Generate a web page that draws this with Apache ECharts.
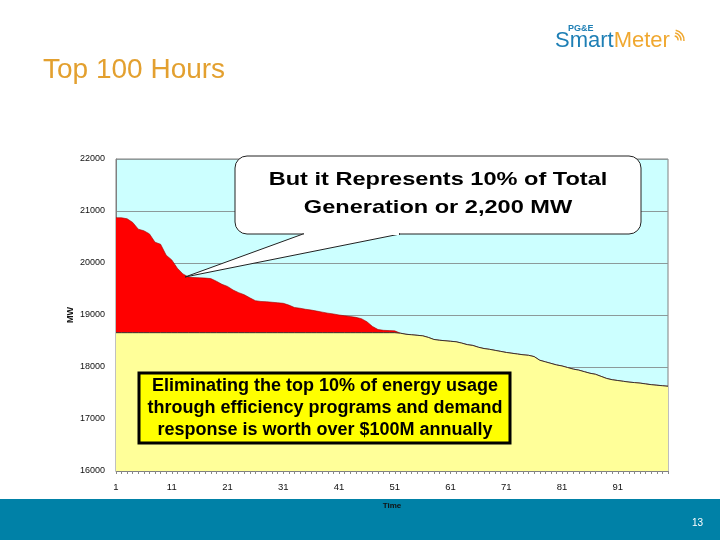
<!DOCTYPE html>
<html>
<head>
<meta charset="utf-8">
<script src="https://cdn.jsdelivr.net/npm/echarts@6/dist/echarts.min.js"></script>
<style>
html,body{margin:0;padding:0;background:#fff;}
#c{width:720px;height:540px;}
</style>
</head>
<body>
<div id="c"></div>
<script>
// Hours 1..100
var hours = [];
for (var i = 1; i <= 100; i++) hours.push(String(i));

// Load (MW) for the top 100 hours
var load = [
20870,20870,20850,20780,20650,20620,20560,20400,20360,20150,
20060,19900,19790,19730,19720,19715,19710,19700,19650,19590,
19550,19480,19430,19390,19330,19275,19260,19255,19245,19235,
19225,19190,19145,19130,19110,19095,19075,19055,19035,19020,
19000,18985,18970,18955,18930,18870,18780,18720,18705,18700,
18695,18650,18630,18620,18610,18600,18570,18530,18515,18505,
18495,18485,18460,18430,18415,18380,18355,18340,18320,18300,
18280,18265,18250,18235,18225,18200,18130,18100,18070,18040,
18020,17990,17960,17940,17910,17880,17860,17820,17780,17755,
17740,17725,17710,17700,17690,17675,17660,17650,17640,17630
];

// Level above which the top 10% lies
var threshold = 18660;

var base = load.map(function (v) { return Math.min(v, threshold); });

var yMin = 16000, yMax = 22000, yStep = 1000;

var chart = echarts.init(document.getElementById('c'));
var sans = 'Liberation Sans, Arial, sans-serif';

chart.setOption({
  animation: false,
  backgroundColor: '#ffffff',
  grid: {
    left: 116, right: 52, top: 159, bottom: 69,
    show: true, backgroundColor: '#CCFFFF', borderColor: '#808080', borderWidth: 1
  },
  xAxis: {
    type: 'category',
    data: hours,
    boundaryGap: false,
    name: 'Time',
    nameLocation: 'middle',
    nameGap: 31,
    nameMoveOverlap: false,
    nameTextStyle: { fontFamily: sans, fontSize: 8, fontWeight: 'bold', color: '#111' },
    axisLine: { lineStyle: { color: '#808080', width: 1 } },
    axisTick: { show: true, interval: 0, length: 3, lineStyle: { color: '#888' } },
    axisLabel: {
      interval: function (idx) { return idx % 10 === 0; },
      fontFamily: sans, fontSize: 9.5, color: '#111', margin: 11
    },
    splitLine: { show: false }
  },
  yAxis: {
    type: 'value',
    min: yMin, max: yMax, interval: yStep,
    name: 'MW',
    nameLocation: 'middle',
    nameGap: 41,
    nameMoveOverlap: false,
    nameTextStyle: { fontFamily: sans, fontSize: 9, fontWeight: 'bold', color: '#111' },
    axisLine: { show: true, lineStyle: { color: '#808080' } },
    axisTick: { show: false },
    axisLabel: { fontFamily: sans, fontSize: 9, color: '#111', margin: 11, formatter: function (v) { return String(v); } },
    splitLine: { lineStyle: { color: '#8c9a9a', width: 1 } }
  },
  series: [
    {
      type: 'line', data: load, symbol: 'none',
      lineStyle: { color: '#a00000', width: 0.6 },
      areaStyle: { color: '#FF0000', opacity: 1 },
      z: 2
    },
    {
      type: 'line', data: base, symbol: 'none',
      lineStyle: { color: '#333333', width: 1 },
      areaStyle: { color: '#FFFF99', opacity: 1 },
      z: 3
    }
  ],
  graphic: [
    { type: 'rect', z: -10, shape: { x: 0, y: 499, width: 720, height: 41 }, style: { fill: '#0081A7' } },
    { type: 'text', z: 10, style: { x: 703, y: 523, text: '13', fill: '#ffffff', font: '10px ' + sans, textAlign: 'right', textVerticalAlign: 'middle' } },
    { type: 'text', z: 10, style: { x: 43, y: 70, text: 'Top 100 Hours', fill: '#E3A02F', font: '28px ' + sans, textAlign: 'left', textVerticalAlign: 'middle' } },
    // logo
    { type: 'text', z: 10, style: { x: 568, y: 29, text: 'PG&E', fill: '#1E7FB5', font: 'bold 9px ' + sans, textAlign: 'left', textVerticalAlign: 'middle' } },
    { type: 'text', z: 10, style: { x: 555, y: 41, text: '{a|Smart}{b|Meter}', rich: { a: { fill: '#1E7FB5', font: '22px ' + sans }, b: { fill: '#F0A830', font: '22px ' + sans } }, textAlign: 'left', textVerticalAlign: 'middle' } },
    { type: 'arc', z: 10, shape: { cx: 674, cy: 40, r: 4, startAngle: -1.4, endAngle: 0.1 }, style: { stroke: '#F0A830', lineWidth: 1.5, fill: null } },
    { type: 'arc', z: 10, shape: { cx: 674, cy: 40, r: 7, startAngle: -1.4, endAngle: 0.1 }, style: { stroke: '#F0A830', lineWidth: 1.5, fill: null } },
    { type: 'arc', z: 10, shape: { cx: 674, cy: 40, r: 10, startAngle: -1.4, endAngle: 0.1 }, style: { stroke: '#F0A830', lineWidth: 1.5, fill: null } },
    // callout
    { type: 'rect', z: 20, shape: { x: 235, y: 156, width: 406, height: 78, r: 12 }, style: { fill: '#ffffff', stroke: '#222222', lineWidth: 1 } },
    { type: 'polygon', z: 21, shape: { points: [[303, 234], [185, 277], [400, 234]] }, style: { fill: '#ffffff', stroke: '#222222', lineWidth: 1 } },
    { type: 'line', z: 22, shape: { x1: 304, y1: 234, x2: 399, y2: 234 }, style: { stroke: '#ffffff', lineWidth: 2 } },
    { type: 'text', z: 23, x: 438, y: 180, scaleX: 1.24, scaleY: 1, style: { x: 0, y: 0, text: 'But it Represents 10% of Total', fill: '#000', font: 'bold 19px ' + sans, textAlign: 'center', textVerticalAlign: 'middle' } },
    { type: 'text', z: 23, x: 438, y: 208, scaleX: 1.24, scaleY: 1, style: { x: 0, y: 0, text: 'Generation or 2,200 MW', fill: '#000', font: 'bold 19px ' + sans, textAlign: 'center', textVerticalAlign: 'middle' } },
    // yellow box
    { type: 'rect', z: 20, shape: { x: 139, y: 373, width: 371, height: 70 }, style: { fill: '#FFFF00', stroke: '#000', lineWidth: 3 } },
    { type: 'text', z: 21, style: { x: 325, y: 386, text: 'Eliminating the top 10% of energy usage', fill: '#000', font: 'bold 18px ' + sans, textAlign: 'center', textVerticalAlign: 'middle' } },
    { type: 'text', z: 21, style: { x: 325, y: 408, text: 'through efficiency programs and demand', fill: '#000', font: 'bold 18px ' + sans, textAlign: 'center', textVerticalAlign: 'middle' } },
    { type: 'text', z: 21, style: { x: 325, y: 430, text: 'response is worth over $100M annually', fill: '#000', font: 'bold 18px ' + sans, textAlign: 'center', textVerticalAlign: 'middle' } }
  ]
});
</script>
</body>
</html>
